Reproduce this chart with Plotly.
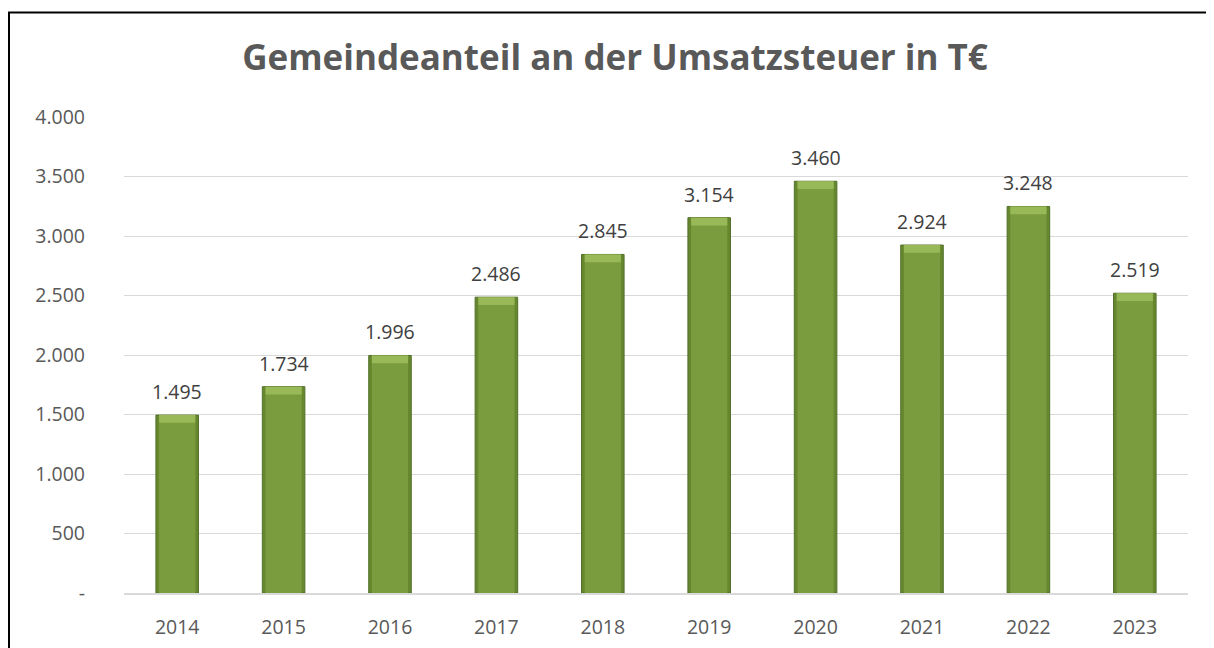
import plotly.graph_objects as go

years = ["2014", "2015", "2016", "2017", "2018", "2019", "2020", "2021", "2022", "2023"]
values = [1495, 1734, 1996, 2486, 2845, 3154, 3460, 2924, 3248, 2519]
y_tickvals = [0, 500, 1000, 1500, 2000, 2500, 3000, 3500, 4000]
y_ticktext = ["-", "500", "1.000", "1.500", "2.000", "2.500", "3.000", "3.500", "4.000"]
title_text = "Gemeindeanteil an der Umsatzsteuer in T€"


def de_fmt(v):
    return f"{v:,}".replace(",", ".")


# page is drawn with an 8px body margin, so the figure is 8px smaller
W, H = 1206, 640
ml, mr, mt, mb = 116, 26, 109, 55
FONT = "Open Sans"
BEVEL = 65  # height of top highlight in axis units (style)

fig = go.Figure()
# darker outer body (edges)
fig.add_trace(go.Bar(
    x=years, y=values, width=0.40,
    marker=dict(color="#67872F", line=dict(color="#52702A", width=1)),
    hoverinfo="skip",
))
# lighter inner body
fig.add_trace(go.Bar(
    x=years, y=values, width=0.34,
    marker=dict(color="#7B9B3F", line=dict(width=0)),
    hoverinfo="skip",
))
# top bevel highlight
fig.add_trace(go.Bar(
    x=years, y=[BEVEL] * len(values), base=[v - BEVEL for v in values], width=0.34,
    marker=dict(color="#99B958", line=dict(width=0)),
    hoverinfo="skip",
))

annotations = [
    dict(x=i, y=v, xref="x", yref="y", text=de_fmt(v), showarrow=False,
         yanchor="bottom", yshift=8,
         font=dict(size=19.5, color="#404040", family=FONT))
    for i, v in enumerate(values)
]

fig.update_layout(
    width=W, height=H,
    margin=dict(l=ml, r=mr, t=mt, b=mb, autoexpand=False),
    paper_bgcolor="white", plot_bgcolor="white",
    barmode="overlay",
    showlegend=False,
    annotations=annotations,
    title=dict(text="<b>" + title_text + "</b>", x=607 / W, xref="container", xanchor="center",
               y=1 - 50 / H, yref="container", yanchor="middle",
               font=dict(size=35, color="#595959", family=FONT)),
    font=dict(family=FONT, color="#595959"),
    xaxis=dict(type="category", categoryorder="array", categoryarray=years,
               range=[-0.5, len(years) - 0.5], autorange=False, automargin=False,
               showgrid=False, showline=True, linecolor="#D9D9D9", linewidth=1.5,
               ticks="", tickfont=dict(size=19.5, color="#595959"), ticklabelstandoff=16),
    yaxis=dict(range=[0, 4000], tickvals=y_tickvals, ticktext=y_ticktext, automargin=False,
               showgrid=True, gridcolor="#D9D9D9", gridwidth=1, zeroline=False,
               showline=False, ticks="", tickfont=dict(size=19.5, color="#595959"),
               ticklabelstandoff=38),
    shapes=[dict(type="rect", xref="paper", yref="paper",
                 x0=(1 - ml) / (W - ml - mr), x1=(W + 20 - ml) / (W - ml - mr),
                 y0=-(mb + 20) / (H - mt - mb), y1=1 + (mt - 4.5) / (H - mt - mb),
                 line=dict(color="black", width=2), fillcolor="rgba(0,0,0,0)", layer="above")],
)

fig.write_html("out.html")
